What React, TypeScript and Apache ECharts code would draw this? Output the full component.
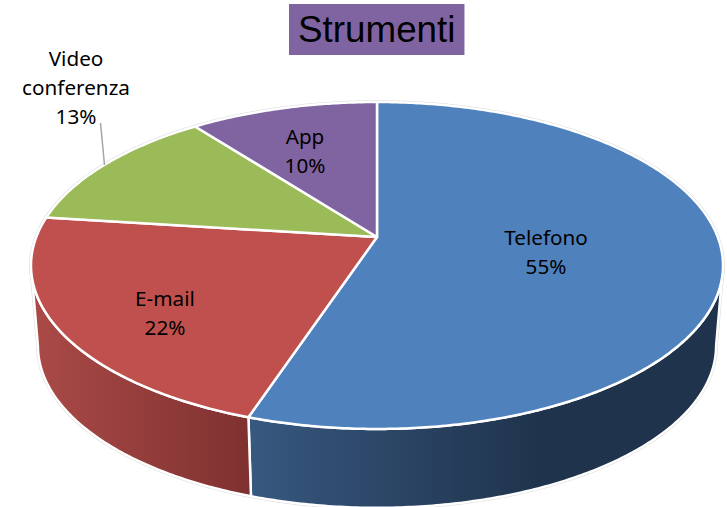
import React, { useEffect, useRef } from "react";
import * as echarts from "echarts";

const categories = ["Telefono", "E-mail", "Video\nconferenza", "App"];
const shares = [55.1, 21.9, 12.6, 10.4];
const topColors = ["#4f81bd", "#c0504d", "#9bbb59", "#8064a2"];
const titleText = "Strumenti";

// Perspective projection of the pie disc onto the page
const APEX_X = 377;
const APEX_Y = 237;
const RADIUS_X = 340.7;
const RADIUS_Y = 158.5;
const PERSPECTIVE = 0.1743;
const RIM_CY = 265.5;
const BASE_CX = 377;
const BASE_CY = 346;
const BASE_SCALE_X = 0.98;
const BASE_SCALE_Y = 0.99;
const TANGENT = Math.acos(-PERSPECTIVE);

const labelCentres: number[][] = [
  [546, 251],
  [165, 312],
  [76, 87],
  [305, 150],
];
const leader = { x1: 100.5, y1: 123, x2: 104.5, y2: 165 };

const wallFills = () => [
  new echarts.graphic.LinearGradient(
    250, 0, 720, 0,
    [
      { offset: 0, color: "#37587f" },
      { offset: 0.42, color: "#273e5c" },
      { offset: 0.62, color: "#1f344c" },
      { offset: 1, color: "#1f344c" },
    ],
    true
  ),
  new echarts.graphic.LinearGradient(
    35, 0, 250, 0,
    [
      { offset: 0, color: "#aa4a47" },
      { offset: 1, color: "#7e3130" },
    ],
    true
  ),
  "#9bbb59",
  "#8064a2",
];

const total = shares.reduce((a, b) => a + b, 0);

function rim(phi: number): number[] {
  const u = Math.sin(phi);
  const v = -Math.cos(phi);
  const w = 1 - PERSPECTIVE * v;
  return [APEX_X + (RADIUS_X * u) / w, APEX_Y + (RADIUS_Y * v) / w];
}

function base(phi: number): number[] {
  const p = rim(phi);
  return [
    BASE_CX + (p[0] - APEX_X) * BASE_SCALE_X,
    BASE_CY + (p[1] - RIM_CY) * BASE_SCALE_Y,
  ];
}

function arc(f: (phi: number) => number[], a: number, b: number): number[][] {
  const n = Math.max(2, Math.ceil(Math.abs(b - a) / 0.01));
  const out: number[][] = [];
  for (let i = 0; i <= n; i++) out.push(f(a + ((b - a) * i) / n));
  return out;
}

function sliceAngles(index: number, value: number): number[] {
  let before = 0;
  for (let i = 0; i < index; i++) before += shares[i];
  const a = (before / total) * Math.PI * 2;
  return [a, a + (value / total) * Math.PI * 2];
}

function topPoints(a: number, b: number): number[][] {
  return [[APEX_X, APEX_Y], ...arc(rim, a, b)];
}

function wallPoints(a: number, b: number): number[][] | null {
  const s = Math.max(a, TANGENT);
  const e = Math.min(b, Math.PI * 2 - TANGENT);
  if (e <= s) return null;
  return [...arc(rim, s, e), ...arc(base, e, s)];
}

const dataRows = shares.map((v, i) => ({ name: categories[i], value: [v] }));

export default function App() {
  const ref = useRef<HTMLDivElement>(null);

  useEffect(() => {
    if (!ref.current) return;
    const chart = echarts.init(ref.current, undefined, { renderer: "svg" });
    const fills = wallFills();

    const haloItem = (params: any, api: any) => {
      const [a, b] = sliceAngles(params.dataIndex, api.value(0));
      const children: any[] = [];
      const w = wallPoints(a, b);
      const style = { fill: "#dadada", stroke: "#dadada", lineWidth: 3.5, lineJoin: "round" };
      if (w) children.push({ type: "polygon", shape: { points: w }, style });
      children.push({ type: "polygon", shape: { points: topPoints(a, b) }, style });
      return { type: "group", children };
    };

    const wallItem = (params: any, api: any) => {
      const [a, b] = sliceAngles(params.dataIndex, api.value(0));
      const w = wallPoints(a, b);
      if (!w) return { type: "group", children: [] };
      return {
        type: "polygon",
        shape: { points: w },
        style: { fill: fills[params.dataIndex], stroke: "#ffffff", lineWidth: 2.5, lineJoin: "round" },
      };
    };

    const topItem = (params: any, api: any) => {
      const [a, b] = sliceAngles(params.dataIndex, api.value(0));
      return {
        type: "polygon",
        shape: { points: topPoints(a, b) },
        style: { fill: topColors[params.dataIndex], stroke: "#ffffff", lineWidth: 2.5, lineJoin: "round" },
      };
    };

    const labelItem = (params: any, api: any) => {
      const i = params.dataIndex;
      const children: any[] = [
        {
          type: "text",
          x: labelCentres[i][0],
          y: labelCentres[i][1],
          style: {
            text: `${categories[i]}\n${Math.round(api.value(0))}%`,
            fontFamily: "Noto Sans",
            fontSize: 20.7,
            lineHeight: 29,
            fill: "#000000",
            align: "center",
            verticalAlign: "middle",
          },
        },
      ];
      if (i === 2) {
        children.push({
          type: "line",
          shape: leader,
          style: { stroke: "#a6a6a6", lineWidth: 1.5 },
        });
      }
      return { type: "group", children };
    };

    const layer = (renderItem: any, z: number) => ({
      type: "custom",
      coordinateSystem: "none",
      silent: true,
      z,
      data: dataRows,
      renderItem,
    });

    chart.setOption({
      animation: false,
      backgroundColor: "#ffffff",
      title: {
        text: titleText,
        left: 289,
        top: 4,
        backgroundColor: "#8064a2",
        padding: [4, 9, 4, 9],
        textStyle: {
          fontFamily: "Liberation Sans",
          fontSize: 36.8,
          fontWeight: "normal",
          lineHeight: 43,
          color: "#000000",
        },
      },
      series: [layer(haloItem, 1), layer(wallItem, 2), layer(topItem, 3), layer(labelItem, 4)],
    });

    return () => chart.dispose();
  }, []);

  return (
    <div
      ref={ref}
      style={{ position: "fixed", left: 0, top: 0, width: 727, height: 507 }}
    />
  );
}
